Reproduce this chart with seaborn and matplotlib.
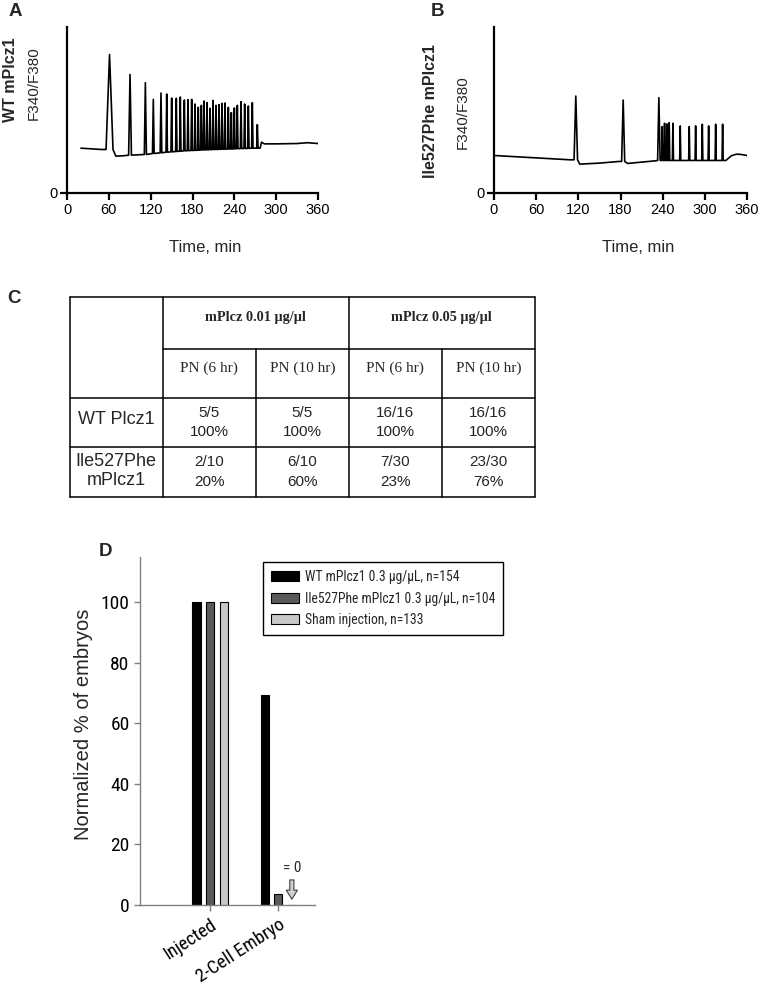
import numpy as np
import pandas as pd
import matplotlib
matplotlib.use("Agg")
import matplotlib.pyplot as plt
import seaborn as sns

# Panel A: WT mPlcz1 calcium trace
a_knot_t = [20, 35, 50, 70, 80, 277, 279, 283, 300, 330, 345, 360]
a_knot_v = [0.27, 0.266, 0.262, 0.222, 0.224, 0.27, 0.306, 0.296, 0.296, 0.298, 0.303, 0.298]
a_spike_t = [61, 90.4, 112.4, 123.8, 134.8, 143, 150.1, 156.8, 162.5, 168.3, 173.5, 178.8,
             183.6, 188.3, 192.7, 196.5, 200.8, 205.1, 209.4, 213.7, 218, 222.3, 226.6,
             231.4, 235.7, 240, 244.3, 249.6, 254.8, 260.1, 265.8, 273]
a_spike_v = [0.834, 0.714, 0.664, 0.564, 0.602, 0.596, 0.572, 0.57, 0.578, 0.56, 0.562, 0.564,
             0.536, 0.516, 0.528, 0.554, 0.544, 0.51, 0.558, 0.528, 0.532, 0.54, 0.542,
             0.516, 0.484, 0.512, 0.528, 0.55, 0.536, 0.524, 0.544, 0.412]
a_spike_base = [0.262, 0.228, 0.232, 0.238, 0.242, 0.246, 0.248, 0.25, 0.252, 0.254, 0.255, 0.256,
                0.257, 0.258, 0.259, 0.26, 0.26, 0.261, 0.262, 0.262, 0.263, 0.264, 0.264,
                0.265, 0.265, 0.266, 0.267, 0.268, 0.268, 0.269, 0.27, 0.27]
a_spike_w = [5, 2, 1.5, 1.2, 1.2] + [1.0] * 27

# Panel B: Ile527Phe mPlcz1 calcium trace
b_knot_t = [0, 50, 108, 122, 150, 178, 190, 230, 330, 338, 345, 352, 360]
b_knot_v = [0.226, 0.214, 0.2, 0.174, 0.18, 0.19, 0.178, 0.194, 0.196, 0.225, 0.234, 0.232, 0.226]
b_spike_t = [116.4, 183.8, 234.6, 239.4, 242.7, 246, 249.3, 254.6, 265, 277.8, 286.9,
             296.4, 305.4, 315.4, 325.3]
b_spike_v = [0.584, 0.56, 0.574, 0.4, 0.42, 0.416, 0.424, 0.42, 0.404, 0.4, 0.404,
             0.414, 0.404, 0.414, 0.414]
b_spike_base = [0.2, 0.19, 0.196] + [0.196] * 12
b_spike_w = [2.5, 2.2, 1.8] + [0.8] * 12

time_ticks = [0, 60, 120, 180, 240, 300, 360]

# Panel C: table
conc_headers = ["mPlcz 0.01 µg/µl", "mPlcz 0.05 µg/µl"]
time_headers = ["PN (6 hr)", "PN (10 hr)", "PN (6 hr)", "PN (10 hr)"]
row_labels = ["WT Plcz1", "Ile527Phe\nmPlcz1"]
counts = [["5/5", "5/5", "16/16", "16/16"], ["2/10", "6/10", "7/30", "23/30"]]
pcts = [["100%", "100%", "100%", "100%"], ["20%", "60%", "23%", "76%"]]

# Panel D: bars
stages = ["Injected", "2-Cell Embryo"]
groups = ["WT mPlcz1 0.3 µg/µL, n=154", "Ile527Phe mPlcz1 0.3 µg/µL, n=104", "Sham injection, n=133"]
wt_pct = [100, 69.5]
ile_pct = [100, 3.8]
sham_pct = [100, 0]
bar_colors = ["#000000", "#5a5a5a", "#c8c8c8"]

sns.set_theme(style="ticks")
plt.rcParams["font.family"] = ["Liberation Sans", "DejaVu Sans"]
narrow = ["Roboto Condensed", "Liberation Sans", "DejaVu Sans"]
serif = ["Liberation Serif", "DejaVu Serif"]

W, H = 763, 994
fig = plt.figure(figsize=(W / 100, H / 100), dpi=100)


def px_axes(x0, y0, x1, y1):
    return fig.add_axes([x0 / W, 1 - y1 / H, (x1 - x0) / W, (y1 - y0) / H])


def trace_xy(knot_t, knot_v, sp_t, sp_v, sp_b, sp_w):
    pts = list(zip(knot_t, knot_v))
    for t, v, b, w in zip(sp_t, sp_v, sp_b, sp_w):
        pts += [(t - w, b), (t, v), (t + w, b)]
    pts.sort(key=lambda p: p[0])
    return np.array([p[0] for p in pts]), np.array([p[1] for p in pts])


def trace_panel(ax, xy):
    sns.lineplot(x=xy[0], y=xy[1], sort=False, estimator=None, color="black", lw=1.2, ax=ax)
    ax.set_xlim(0, 360)
    ax.set_ylim(0, 1)
    ax.set_xticks(time_ticks)
    ax.set_yticks([0])
    sns.despine(ax=ax)
    for s in ["left", "bottom"]:
        ax.spines[s].set_linewidth(1.6)
        ax.spines[s].set_color("black")
    ax.tick_params(length=5, width=1.6, pad=2, labelsize=10.5, colors="black")
    ax.set_xlabel("")
    ax.set_ylabel("")


axA = px_axes(67, 27, 318, 193)
trace_panel(axA, trace_xy(a_knot_t, a_knot_v, a_spike_t, a_spike_v, a_spike_base, a_spike_w))
axB = px_axes(494, 27, 747, 193)
trace_panel(axB, trace_xy(b_knot_t, b_knot_v, b_spike_t, b_spike_v, b_spike_base, b_spike_w))

fig.text(205 / W, 1 - 247 / H, "Time, min", ha="center", va="center", fontsize=12)
fig.text(638 / W, 1 - 247 / H, "Time, min", ha="center", va="center", fontsize=12)
fig.text(11 / W, 1 - 80 / H, "WT mPlcz1", rotation=90, ha="center", va="center",
         fontsize=11.5, fontweight="bold")
fig.text(34 / W, 1 - 83 / H, "F340/F380", rotation=90, ha="center", va="center", fontsize=11)
fig.text(430 / W, 1 - 111 / H, "Ile527Phe mPlcz1", rotation=90, ha="center", va="center",
         fontsize=11.5, fontweight="bold")
fig.text(463 / W, 1 - 112 / H, "F340/F380", rotation=90, ha="center", va="center", fontsize=11)

for lab, x, y in [("A", 15, 12), ("B", 437, 12), ("C", 14, 298), ("D", 105, 552)]:
    fig.text(x / W, 1 - y / H, lab, ha="center", va="center", fontsize=13.5, fontweight="bold")

# Table
axT = px_axes(70, 297, 535, 497)
axT.set_xlim(70, 535)
axT.set_ylim(497, 297)
axT.axis("off")
lk = dict(color="black", lw=1.1, clip_on=False)
col_x = [70, 162.7, 256, 348.7, 442, 535]
row_y = [297, 349, 398, 447, 497]
for y in [297, 398, 447, 497]:
    axT.plot([70, 535], [y, y], **lk)
axT.plot([162.7, 535], [349, 349], **lk)
for x in [70, 162.7, 348.7, 535]:
    axT.plot([x, x], [297, 497], **lk)
for x in [256, 442]:
    axT.plot([x, x], [349, 497], **lk)

for i, h in enumerate(conc_headers):
    axT.text((col_x[1 + 2 * i] + col_x[3 + 2 * i]) / 2, 317, h, ha="center", va="center",
             fontsize=10.3, fontweight="bold", family=serif)
for j, h in enumerate(time_headers):
    cx = (col_x[1 + j] + col_x[2 + j]) / 2
    axT.text(cx, 368, h, ha="center", va="center", fontsize=11, family=serif)
row_mid = [420, 471]
for r in range(2):
    axT.text(116, row_mid[r], row_labels[r], ha="center", va="center", fontsize=13,
             linespacing=1.1)
    for j in range(4):
        cx = (col_x[1 + j] + col_x[2 + j]) / 2
        axT.text(cx, row_y[2 + r] + 15, counts[r][j], ha="center", va="center", fontsize=11)
        axT.text(cx, row_y[2 + r] + 34.5, pcts[r][j], ha="center", va="center", fontsize=11,
                 color="#222222")

# Panel D
axD = px_axes(140, 557, 315, 905)
df = pd.DataFrame({
    "stage": stages * 3,
    "group": np.repeat(groups, 2),
    "pct": wt_pct + ile_pct + sham_pct,
})
sns.barplot(data=df, x="stage", y="pct", hue="group", order=stages, hue_order=groups,
            palette=bar_colors, width=0.6, gap=0.4, edgecolor="black", linewidth=0.8,
            errorbar=None, ax=axD)
axD.set_xlim(-1.03, 1.54)
axD.set_ylim(0, 115)
axD.set_yticks([0, 20, 40, 60, 80, 100])
sns.despine(ax=axD)
for s in ["left", "bottom"]:
    axD.spines[s].set_color("#808080")
    axD.spines[s].set_linewidth(1.0)
axD.tick_params(length=4, width=1, color="#808080", labelsize=14, labelcolor="black")
for t in axD.get_yticklabels():
    t.set_family(narrow)
axD.set_xticks(range(len(stages)))
axD.set_xticklabels(stages, rotation=33, ha="right", rotation_mode="anchor",
                    fontsize=13.5, family=narrow)
axD.set_xlabel("")
axD.set_ylabel("Normalized % of embryos", fontsize=14.5)
axD.yaxis.set_label_coords(-0.27, 0.52)

# sham value for 2-cell is zero: mark with arrow
sham_x = 1 + 0.2
axD.annotate("", xy=(sham_x, 1.0), xytext=(sham_x, 9.2),
             arrowprops=dict(arrowstyle="simple,head_width=0.8,head_length=0.65,tail_width=0.3",
                             mutation_scale=10, fc="#d0d0d0", ec="#404040", lw=0.8))
axD.text(sham_x + 0.01, 12.3, "= 0", ha="center", va="center", fontsize=11, family=narrow)

sns.move_legend(axD, "upper left", bbox_to_anchor=(262.7 / W, 1 - 562 / H),
                bbox_transform=fig.transFigure, title=None, frameon=True, fancybox=False,
                edgecolor="black", framealpha=1, handlelength=2.05, handleheight=0.76,
                labelspacing=0.55, borderpad=0.6, handletextpad=0.45, borderaxespad=0,
                prop={"family": narrow, "size": 9.8})
axD.get_legend().get_frame().set_linewidth(1.0)

fig.savefig("out.png", dpi=100)
